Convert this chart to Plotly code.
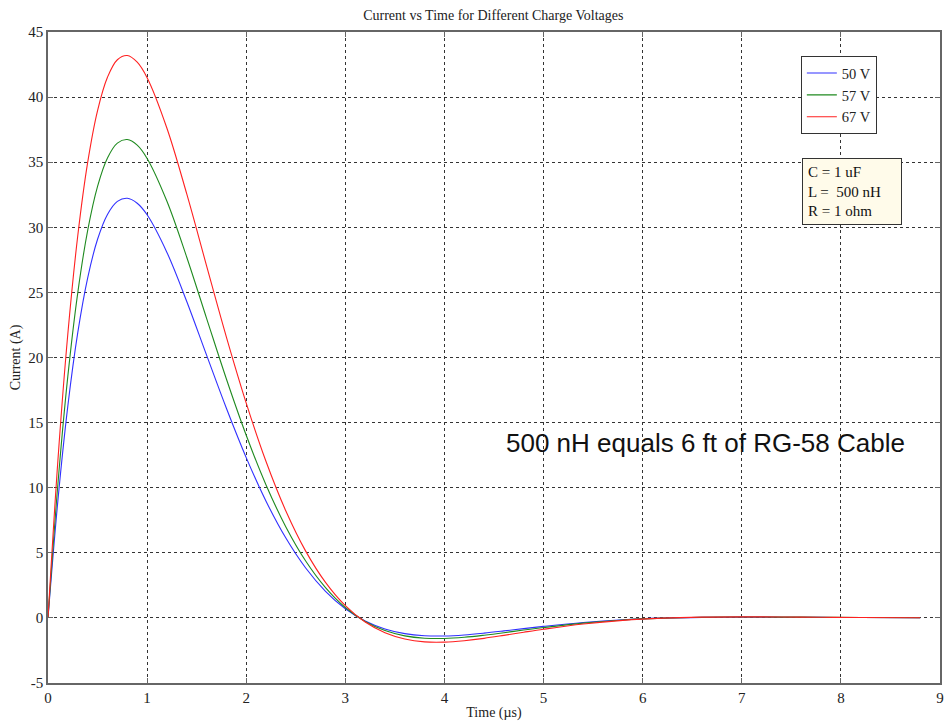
import plotly.graph_objects as go

# Time in microseconds
time_us = [0, 0.1, 0.2, 0.3, 0.4, 0.5, 0.6, 0.7, 0.8, 0.9, 1.0, 1.2, 1.4, 1.6, 1.8,
           2.0, 2.2, 2.4, 2.6, 2.8, 3.0, 3.2, 3.4, 3.6, 3.8, 4.0, 4.2, 4.4, 4.6, 4.8,
           5.0, 5.4, 5.8, 6.2, 6.6, 7.0, 7.4, 7.8, 8.2, 8.8]

current_50v = [0, 9.03, 16.27, 21.89, 26.10, 29.08, 30.99, 31.99, 32.23, 31.85, 30.96,
               28.07, 24.30, 20.18, 16.10, 12.31, 8.96, 6.13, 3.83, 2.04, 0.70, -0.24,
               -0.85, -1.21, -1.37, -1.39, -1.31, -1.17, -1.00, -0.82, -0.65, -0.35,
               -0.14, -0.02, 0.04, 0.06, 0.055, 0.04, 0.026, 0.009]

current_57v = [0, 10.29, 18.55, 24.95, 29.75, 33.15, 35.33, 36.47, 36.74, 36.31, 35.29,
               32.00, 27.70, 23.01, 18.35, 14.03, 10.21, 6.99, 4.37, 2.33, 0.80, -0.27,
               -0.97, -1.38, -1.56, -1.58, -1.49, -1.33, -1.14, -0.93, -0.74, -0.40,
               -0.16, -0.02, 0.05, 0.07, 0.06, 0.05, 0.03, 0.01]

current_67v = [0, 12.10, 21.80, 29.33, 34.97, 38.97, 41.53, 42.87, 43.19, 42.68, 41.49,
               37.61, 32.56, 27.04, 21.57, 16.50, 12.01, 8.21, 5.13, 2.73, 0.94, -0.32,
               -1.14, -1.62, -1.84, -1.86, -1.75, -1.57, -1.34, -1.10, -0.87, -0.47,
               -0.19, -0.02, 0.06, 0.08, 0.07, 0.05, 0.03, 0.01]

series_names = ["50 V", "57 V", "67 V"]
x_ticks = [0, 1, 2, 3, 4, 5, 6, 7, 8, 9]
y_ticks = [-5, 0, 5, 10, 15, 20, 25, 30, 35, 40, 45]

serif = "Liberation Serif, Times New Roman, serif"

fig = go.Figure()
for name, ys, col in zip(series_names, [current_50v, current_57v, current_67v],
                         ["#3030ff", "#1f8a1f", "#ff2020"]):
    fig.add_trace(go.Scatter(x=time_us, y=ys, name=name, mode="lines",
                             line=dict(color=col, width=1.1, shape="spline")))

axis_common = dict(
    showgrid=True, gridcolor="#333333", griddash="dot", gridwidth=1,
    showline=True, linecolor="#666666", linewidth=1.5, mirror="ticks",
    ticks="inside", ticklen=5, tickcolor="#666666", zeroline=False,
    tickfont=dict(family=serif, size=15, color="#222222"),
    automargin=False,
)

fig.update_layout(
    width=945, height=725,
    margin=dict(l=48, r=5, t=32, b=42),
    plot_bgcolor="white", paper_bgcolor="white",
    title=dict(text="Current vs Time for Different Charge Voltages",
               x=0.522, xanchor="center", y=0.979, yanchor="middle",
               font=dict(family=serif, size=14, color="#222222")),
    xaxis=dict(range=[0, 9], tickvals=x_ticks, ticktext=[str(v) for v in x_ticks],
               title=dict(text="Time (µs)", font=dict(family=serif, size=14, color="#222222"),
                          standoff=2),
               **axis_common),
    yaxis=dict(range=[-5, 45], tickvals=y_ticks, ticktext=[str(v) for v in y_ticks],
               title=dict(text="Current (A)", font=dict(family=serif, size=14, color="#222222"),
                          standoff=4),
               **axis_common),
    legend=dict(x=0.844, y=0.963, xanchor="left", yanchor="top",
                bgcolor="white", bordercolor="#333333", borderwidth=1,
                font=dict(family=serif, size=14.5, color="#222222"),
                itemwidth=30, tracegroupgap=0),
    showlegend=True,
)

fig.add_annotation(
    xref="paper", yref="paper", x=0.845, y=0.806, xanchor="left", yanchor="top",
    text="C = 1 uF<br>L =  500 nH<br>R = 1 ohm", align="left", showarrow=False,
    width=88,
    font=dict(family=serif, size=15, color="#111111"),
    bgcolor="#fffbea", bordercolor="#333333", borderwidth=1, borderpad=5,
)

fig.add_annotation(
    x=6.63, y=13.43, xref="x", yref="y",
    text="500 nH equals 6 ft of RG-58 Cable", showarrow=False,
    font=dict(family="Liberation Sans, Arial, sans-serif", size=26, color="#111111"),
)

fig.write_html("out.html", config={"displayModeBar": False},
               post_script="document.body.style.margin='0';")
